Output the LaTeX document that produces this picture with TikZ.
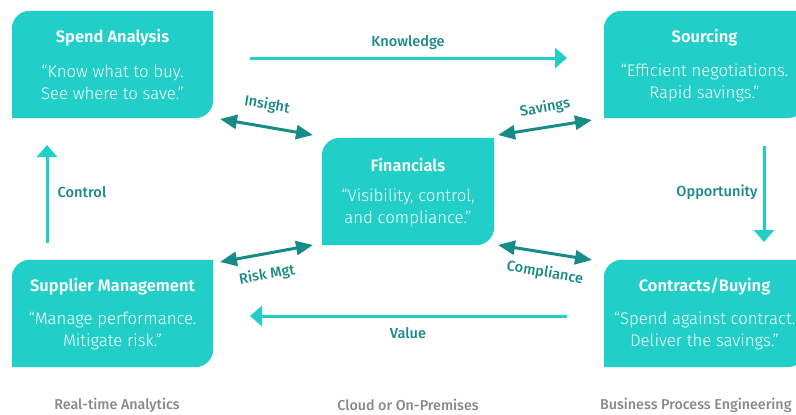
\documentclass[tikz,border=0pt]{standalone}
\usepackage{fontspec}
\setmainfont{Fira Sans}
\IfFontExistsTF{Fira Sans Light}{\newfontfamily\quotefont{Fira Sans Light}}{\newfontfamily\quotefont{Fira Sans}}
\IfFontExistsTF{Fira Sans SemiBold}{\newfontfamily\titlefont{Fira Sans SemiBold}}{\newfontfamily\titlefont[FakeBold=1]{Fira Sans}}
\IfFontExistsTF{Fira Sans Medium}{\newfontfamily\labelfont{Fira Sans Medium}}{\newfontfamily\labelfont{Fira Sans}}
\usetikzlibrary{arrows.meta,calc}

\definecolor{tealbox}{HTML}{21CFC8}
\definecolor{tealdark}{HTML}{178C87}
\definecolor{labeltxt}{HTML}{1B8A85}
\definecolor{footgray}{HTML}{888888}

\tikzset{
  boxshape/.style={rectangle, inner sep=0pt, minimum height=107pt},
  leaffill/.style={fill=tealbox},
  boxtitle/.style={text=white, font=\titlefont\fontsize{16.5}{19}\selectfont},
  boxquote/.style={text=white, align=center, font=\quotefont\fontsize{16.8}{22}\selectfont},
  flow/.style={draw=tealbox, line width=3pt, -{Triangle[length=12pt,width=20pt]}},
  link/.style={draw=tealdark, line width=3pt, {Triangle[length=17pt,width=14pt]}-{Triangle[length=17pt,width=14pt]}},
  lbl/.style={text=labeltxt, font=\labelfont\fontsize{14.6}{16}\selectfont},
  foot/.style={text=footgray, font=\labelfont\fontsize{14.3}{16}\selectfont},
}

\begin{document}
\begin{tikzpicture}[x=1pt, y=-1pt]
\useasboundingbox (0,0) rectangle (796,415);
\clip (0,0) rectangle (796,415);

% box frames
\node[boxshape, minimum width=201pt] (spend) at (112.5,64.5) {};
\node[boxshape, minimum width=201pt] (sourcing) at (704.5,64.5) {};
\node[boxshape, minimum width=172pt] (fin) at (408,191.5) {};
\node[boxshape, minimum width=201pt] (supplier) at (112.5,313.5) {};
\node[boxshape, minimum width=201pt] (contracts) at (704.5,313.5) {};

% leaf-shaped fills: rounded top-right and bottom-left corners
\foreach \b in {spend,sourcing,fin,supplier,contracts}{
  \fill[leaffill] (\b.north west) -- (\b.north east) [rounded corners=18pt]
     -- (\b.south east) [sharp corners] -- (\b.south west) [rounded corners=18pt] -- cycle;
}

% box texts
\node[boxtitle] (spend-t) at ($(spend.north)+(0,27)$) {Spend Analysis};
\node[boxquote] (spend-q) at ($(spend.north)+(0,72)$) {“Know what to buy.\\See where to save.”};
\node[boxtitle] (sourcing-t) at ($(sourcing.north)+(0,27)$) {Sourcing};
\node[boxquote] (sourcing-q) at ($(sourcing.north)+(0,72)$) {“Efficient negotiations.\\Rapid savings.”};
\node[boxtitle] (fin-t) at ($(fin.north)+(0,27)$) {Financials};
\node[boxquote] (fin-q) at ($(fin.north)+(0,70)$) {“Visibility, control,\\and compliance.”};
\node[boxtitle] (supplier-t) at ($(supplier.north)+(0,27)$) {Supplier Management};
\node[boxquote] (supplier-q) at ($(supplier.north)+(0,71)$) {“Manage performance.\\Mitigate risk.”};
\node[boxtitle] (contracts-t) at ($(contracts.north)+(0,27)$) {Contracts/Buying};
\node[boxquote] (contracts-q) at ($(contracts.north)+(0,71)$) {“Spend against contract.\\Deliver the savings.”};

% connector end points
\coordinate (kn-a) at (250,58);   \coordinate (kn-b) at (567,58);
\coordinate (op-a) at (764,146);  \coordinate (op-b) at (764,242);
\coordinate (va-a) at (567,316);  \coordinate (va-b) at (250,316);
\coordinate (co-a) at (47,243);   \coordinate (co-b) at (47,145);
\coordinate (in-a) at (220,119);  \coordinate (in-b) at (313,135);
\coordinate (sa-a) at (498,135);  \coordinate (sa-b) at (592,120);
\coordinate (ri-a) at (220,262);  \coordinate (ri-b) at (313,245);
\coordinate (cm-a) at (498,245);  \coordinate (cm-b) at (592,260);

% process cycle
\draw[flow] (kn-a) -- (kn-b);
\draw[flow] (op-a) -- (op-b);
\draw[flow] (va-a) -- (va-b);
\draw[flow] (co-a) -- (co-b);

% links to financials
\draw[link] (in-a) -- (in-b);
\draw[link] (sa-a) -- (sa-b);
\draw[link] (ri-a) -- (ri-b);
\draw[link] (cm-a) -- (cm-b);

% connector labels
\node[lbl] (kn-l) at (408,43) {Knowledge};
\node[lbl] (op-l) at (717,192) {Opportunity};
\node[lbl] (va-l) at (408,333) {Value};
\node[lbl] (co-l) at (82,192) {Control};
\node[lbl, rotate=-10] (in-l) at (267,105) {Insight};
\node[lbl, rotate=10] (sa-l) at (545,108) {Savings};
\node[lbl, rotate=10] (ri-l) at (267,275) {Risk Mgt};
\node[lbl, rotate=-10] (cm-l) at (545,273) {Compliance};

% column captions
\node[foot] (f1) at (117,405) {Real-time Analytics};
\node[foot] (f2) at (408,405) {Cloud or On-Premises};
\node[foot, anchor=east] (f3) at (795,405) {Business Process Engineering};
\end{tikzpicture}
\end{document}
